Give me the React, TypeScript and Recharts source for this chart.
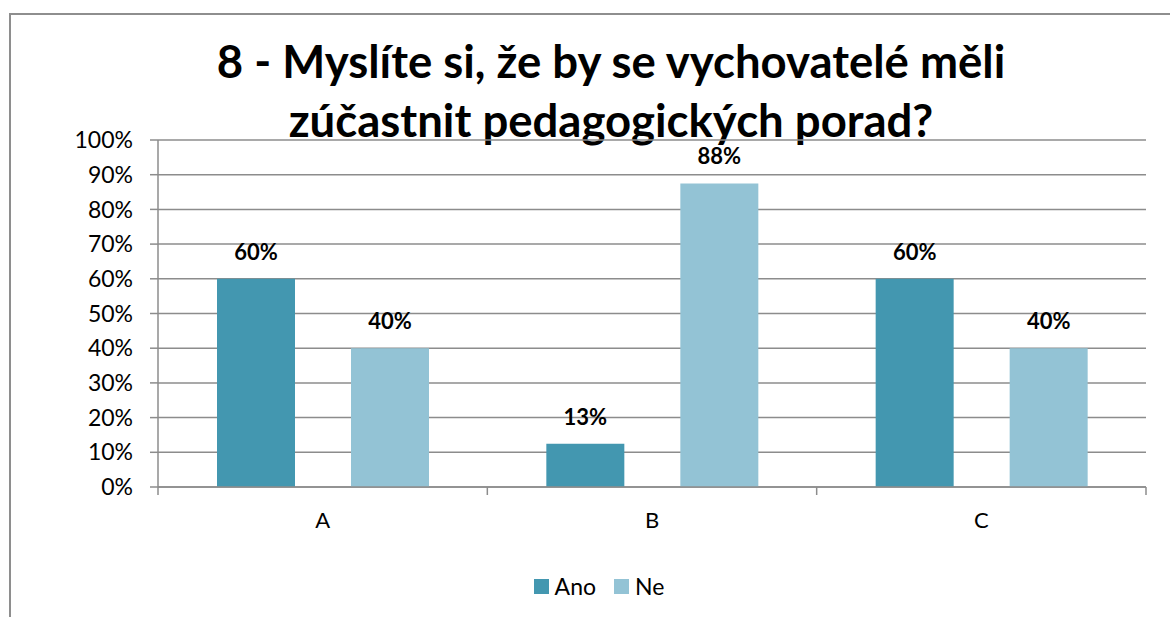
import React from "react";
import { BarChart, Bar, XAxis, YAxis, CartesianGrid, Legend, LabelList } from "recharts";

const categories = ["A", "B", "C"];
const anoValues = [60, 12.5, 60];
const neValues = [40, 87.5, 40];
const yTicks = [0, 10, 20, 30, 40, 50, 60, 70, 80, 90, 100];

const data = categories.map((name, i) => ({ name, Ano: anoValues[i], Ne: neValues[i] }));

const FONT = "Lato, 'Open Sans', sans-serif";
const GRID = "#8c8c8c";
const ANO = "#4397b0";
const NE = "#93c3d5";
const PLOT_LEFT = 158;
const PLOT_RIGHT = 1146;
const BAND = (PLOT_RIGHT - PLOT_LEFT) / categories.length;

const CategoryTick = (props: any) => {
  const { x, y, payload, index } = props;
  const last = index === categories.length - 1;
  return (
    <g>
      <line x1={x - BAND / 2} x2={x - BAND / 2} y1={y - 8} y2={y} stroke={GRID} strokeWidth={1.5} />
      {last && <line x1={x + BAND / 2} x2={x + BAND / 2} y1={y - 8} y2={y} stroke={GRID} strokeWidth={1.5} />}
      <text x={x} y={y + 33} textAnchor="middle" fontSize={22} fontFamily={FONT} fill="#000">
        {payload.value}
      </text>
    </g>
  );
};

const pct = (v: any) => `${Math.round(Number(v))}%`;

const LegendContent = () => (
  <div style={{ display: "flex", justifyContent: "center", gap: 18, fontFamily: FONT, fontSize: 23, height: 25, lineHeight: "25px", paddingRight: 16 }}>
    {[
      ["Ano", ANO],
      ["Ne", NE],
    ].map(([k, c]) => (
      <div key={k} style={{ display: "flex", alignItems: "center", gap: 6 }}>
        <span style={{ width: 15, height: 15, background: c, display: "inline-block" }} />
        <span>{k}</span>
      </div>
    ))}
  </div>
);

const labelStyle = { fontSize: 22, fontWeight: 700, fontFamily: FONT, fill: "#000" };

export default function App() {
  return (
    <div style={{ position: "fixed", left: 0, top: 0, width: 1170, height: 617, background: "#fff", overflow: "hidden" }}>
      <div style={{ position: "absolute", left: 9, top: 13, width: 1210, height: 700, border: "2px solid #8e8e8e", boxSizing: "border-box" }} />
      <div
        style={{
          position: "absolute",
          left: 0,
          width: 1222,
          top: 31,
          textAlign: "center",
          fontFamily: FONT,
          fontWeight: 700,
          fontSize: 45.5,
          lineHeight: "59px",
          color: "#000",
        }}
      >
        8 - Myslíte si, že by se vychovatelé měli
        <br />
        zúčastnit pedagogických porad?
      </div>
      <div style={{ position: "absolute", left: 0, top: 0 }}>
        <BarChart
          width={1170}
          height={617}
          data={data}
          margin={{ top: 140, right: 1170 - PLOT_RIGHT, left: PLOT_LEFT - 90, bottom: 55 }}
          barSize={78}
          barGap={56}
        >
          <CartesianGrid vertical={false} stroke={GRID} strokeWidth={1.5} />
          <XAxis
            dataKey="name"
            axisLine={{ stroke: GRID, strokeWidth: 1.5 }}
            tickLine={false}
            tick={<CategoryTick />}
            height={50}
            interval={0}
          />
          <YAxis
            domain={[0, 100]}
            ticks={yTicks}
            tickFormatter={(v) => `${v}%`}
            width={90}
            tickSize={8}
            tickMargin={17}
            axisLine={{ stroke: GRID, strokeWidth: 1.5 }}
            tickLine={{ stroke: GRID, strokeWidth: 1.5 }}
            tick={{ fontSize: 23, fontFamily: FONT, fill: "#000" }}
            interval={0}
          />
          <Legend verticalAlign="bottom" content={<LegendContent />} wrapperStyle={{ bottom: 18 }} />
          <Bar dataKey="Ano" fill={ANO} isAnimationActive={false}>
            <LabelList dataKey="Ano" position="top" offset={19} formatter={pct} style={labelStyle} />
          </Bar>
          <Bar dataKey="Ne" fill={NE} isAnimationActive={false}>
            <LabelList dataKey="Ne" position="top" offset={19} formatter={pct} style={labelStyle} />
          </Bar>
        </BarChart>
      </div>
    </div>
  );
}
